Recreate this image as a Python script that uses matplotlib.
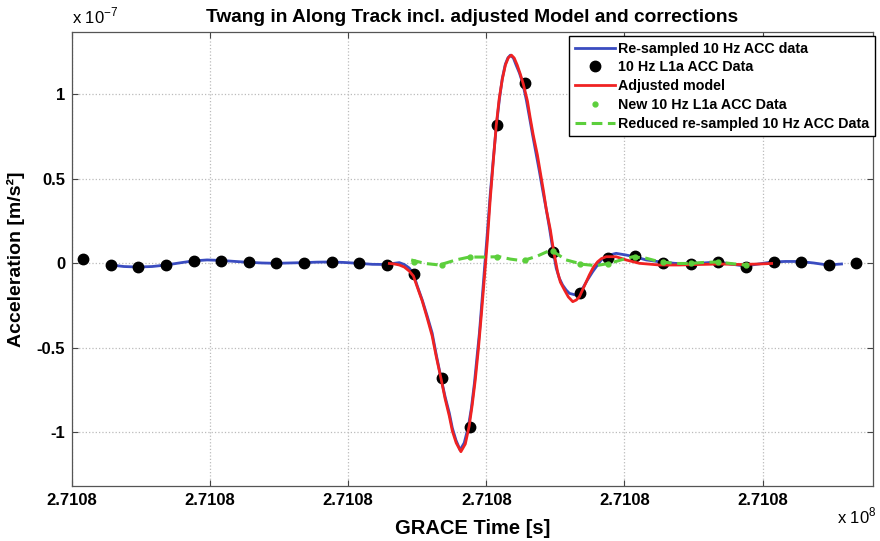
import numpy as np
import matplotlib
matplotlib.use("Agg")
import matplotlib.pyplot as plt
from matplotlib.ticker import FuncFormatter

plt.rcParams['font.family'] = ['Liberation Sans', 'DejaVu Sans']

# time offsets in seconds from T0 (GRACE time), accelerations in 1e-7 m/s^2
T0 = 271080000.0

# 10 Hz L1a ACC data (black dots)
l1a_t = [0.04, 0.14, 0.24, 0.34, 0.44, 0.54, 0.64, 0.74, 0.84, 0.94,
         1.04, 1.14, 1.24, 1.34, 1.44, 1.54, 1.64, 1.74, 1.84, 1.94,
         2.04, 2.14, 2.24, 2.34, 2.44, 2.54, 2.64, 2.74, 2.84]
l1a_acc = [0.024, -0.008, -0.024, -0.008, 0.014, 0.015, 0.006, 0.0, 0.004, 0.008,
           0.0, -0.008, -0.062, -0.680, -0.970, 0.818, 1.065, 0.069, -0.174, 0.030,
           0.043, 0.004, -0.006, 0.006, -0.020, 0.006, 0.009, -0.010, 0.004]

# re-sampled 10 Hz ACC data (blue)
res_t = [0.141, 0.188, 0.239, 0.290, 0.341, 0.388, 0.438, 0.489, 0.540, 0.591,
         0.638, 0.688, 0.739, 0.786, 0.837, 0.888, 0.938, 0.986, 1.036, 1.087,
         1.138, 1.167, 1.185, 1.203, 1.221, 1.236, 1.250, 1.268, 1.286, 1.304,
         1.319, 1.336, 1.351, 1.366, 1.377, 1.390, 1.405, 1.420, 1.435, 1.446,
         1.457, 1.467, 1.475, 1.486, 1.493, 1.504, 1.514, 1.525, 1.536, 1.547,
         1.558, 1.569, 1.578, 1.587, 1.598, 1.608, 1.620, 1.632, 1.645, 1.656,
         1.667, 1.680, 1.692, 1.704, 1.716, 1.728, 1.740, 1.753, 1.764, 1.776,
         1.789, 1.801, 1.825, 1.849, 1.866, 1.885, 1.916, 1.946, 1.970, 2.006,
         2.036, 2.079, 2.127, 2.181, 2.236, 2.286, 2.337, 2.384, 2.435, 2.486,
         2.536, 2.583, 2.634, 2.685, 2.736, 2.786]
res_acc = [-0.010, -0.019, -0.022, -0.019, -0.010, 0.002, 0.014, 0.020, 0.017, 0.011,
           0.006, 0.002, 0.0, 0.002, 0.004, 0.007, 0.008, 0.005, 0.0, -0.006,
           -0.007, 0.0, 0.004, -0.007, -0.028, -0.063, -0.134, -0.217, -0.312, -0.413,
           -0.543, -0.679, -0.791, -0.886, -0.975, -1.046, -1.105, -1.063, -0.967, -0.856,
           -0.708, -0.543, -0.413, -0.188, -0.040, 0.185, 0.404, 0.611, 0.807, 0.966,
           1.096, 1.179, 1.215, 1.232, 1.215, 1.173, 1.126, 1.065, 0.966, 0.867,
           0.765, 0.651, 0.546, 0.434, 0.328, 0.215, 0.091, -0.028, -0.087, -0.128,
           -0.158, -0.178, -0.188, -0.148, -0.099, -0.050, 0.020, 0.049, 0.059, 0.049,
           0.039, 0.020, 0.009, 0.0, -0.004, 0.002, 0.008, -0.004, -0.016, -0.004,
           0.008, 0.011, 0.011, 0.002, -0.010, -0.004]

# adjusted model (red)
mod_t = [1.149, 1.167, 1.185, 1.203, 1.221, 1.236, 1.250, 1.268, 1.286, 1.304,
         1.319, 1.337, 1.351, 1.366, 1.377, 1.391, 1.408, 1.424, 1.438, 1.449,
         1.460, 1.471, 1.482, 1.493, 1.504, 1.514, 1.525, 1.536, 1.547, 1.558,
         1.569, 1.580, 1.591, 1.601, 1.612, 1.623, 1.634, 1.649, 1.659, 1.670,
         1.685, 1.696, 1.707, 1.717, 1.732, 1.743, 1.758, 1.768, 1.783, 1.797,
         1.813, 1.826, 1.837, 1.855, 1.873, 1.888, 1.903, 1.917, 1.934, 1.970,
         2.006, 2.054, 2.127, 2.199, 2.272, 2.344, 2.417, 2.489, 2.533]
mod_acc = [-0.001, -0.004, -0.010, -0.022, -0.046, -0.075, -0.140, -0.223, -0.324, -0.430,
           -0.554, -0.690, -0.803, -0.904, -0.992, -1.063, -1.115, -1.069, -0.963, -0.838,
           -0.691, -0.513, -0.306, -0.087, 0.138, 0.375, 0.599, 0.818, 0.978, 1.090,
           1.173, 1.218, 1.232, 1.215, 1.173, 1.120, 1.061, 0.960, 0.860, 0.759,
           0.641, 0.534, 0.428, 0.321, 0.197, 0.079, -0.050, -0.111, -0.158, -0.199,
           -0.227, -0.217, -0.198, -0.134, -0.069, -0.022, 0.009, 0.028, 0.039, 0.039,
           0.020, 0.0, -0.010, -0.010, -0.007, -0.004, -0.007, -0.004, -0.001]

# new 10 Hz L1a ACC data (green dots)
new_t = [1.24, 1.34, 1.44, 1.54, 1.64, 1.74, 1.84, 1.94, 2.04, 2.14, 2.24, 2.34, 2.44]
new_acc = [0.005, -0.008, 0.035, 0.038, 0.020, 0.070, -0.002, -0.005, 0.035, 0.005,
           -0.001, 0.008, -0.010]

# reduced re-sampled 10 Hz ACC data (green dashed)
red_t = [1.228, 1.279, 1.330, 1.390, 1.438, 1.489, 1.547, 1.587, 1.632, 1.685,
         1.734, 1.789, 1.849, 1.897, 1.946, 1.988, 2.031, 2.079, 2.127, 2.188,
         2.236, 2.286, 2.337, 2.384, 2.435]
red_acc = [0.020, -0.001, -0.010, 0.020, 0.037, 0.037, 0.039, 0.025, 0.015, 0.043,
           0.079, 0.020, -0.006, -0.014, 0.0, 0.020, 0.039, 0.030, 0.009, -0.001,
           -0.001, 0.005, 0.008, -0.001, -0.010]

fig = plt.figure(figsize=(8.8, 5.41), dpi=100)
ax = fig.add_axes([72 / 880, 1 - 486 / 541, 801 / 880, 454 / 541])

ax.plot(res_t, res_acc, color='#3a4cc0', lw=2.0, label='Re-sampled 10 Hz ACC data')
ax.plot(l1a_t, l1a_acc, 'o', color='black', ms=7.5, label='10 Hz L1a ACC Data')
ax.plot(mod_t, mod_acc, color='#f02222', lw=2.0, label='Adjusted model')
ax.plot(new_t, new_acc, 'o', color='#5ccf3c', ms=3.5, label='New 10 Hz L1a ACC Data')
ax.plot(red_t, red_acc, '--', color='#5ccf3c', lw=2.2, dashes=(3.5, 1.8),
        label='Reduced re-sampled 10 Hz ACC Data')

ax.set_xlim(0, 2.9)
ax.set_ylim(-1.318, 1.369)
ax.set_xticks([0, 0.5, 1.0, 1.5, 2.0, 2.5])
ax.set_yticks([-1, -0.5, 0, 0.5, 1])
ax.xaxis.set_major_formatter(FuncFormatter(lambda v, p: f"{(T0 + v) / 1e8:.4f}"))
ax.yaxis.set_major_formatter(FuncFormatter(lambda v, p: f"{v:g}"))
ax.tick_params(direction='in', length=4, width=0.8, colors='#444444',
               labelcolor='black', top=True, right=True, labelsize=12, pad=5)
for lab in ax.get_xticklabels() + ax.get_yticklabels():
    lab.set_fontweight('bold')
ax.grid(True, linestyle=':', color='#bbbbbb', lw=0.9)
for s in ax.spines.values():
    s.set_color('#555555')
    s.set_linewidth(0.9)

ax.set_title('Twang in Along Track incl. adjusted Model and corrections',
             fontsize=13.8, fontweight='bold', pad=7)
ax.set_xlabel('GRACE Time [s]', fontsize=14.5, fontweight='bold', labelpad=8)
ax.set_ylabel('Acceleration [m/s²]', fontsize=14, fontweight='bold', labelpad=8)

ax.text(0.0, 1.012, r'x 10$^{\mathregular{-7}}$', transform=ax.transAxes,
        fontsize=12, ha='left', va='bottom')
ax.text(0.955, -0.066, r'x 10$^{\mathregular{8}}$', transform=ax.transAxes,
        fontsize=12, ha='left', va='center')

leg = ax.legend(loc='upper right', bbox_to_anchor=(875 / 880, 1 - 36 / 541),
                bbox_transform=fig.transFigure, borderaxespad=0,
                prop={'weight': 'bold', 'size': 10.3}, fancybox=False,
                framealpha=1, edgecolor='black', handlelength=2.8,
                handletextpad=0.2, labelspacing=0.33, borderpad=0.4)
leg.get_frame().set_linewidth(1.0)

fig.savefig('out.png', dpi=100)
